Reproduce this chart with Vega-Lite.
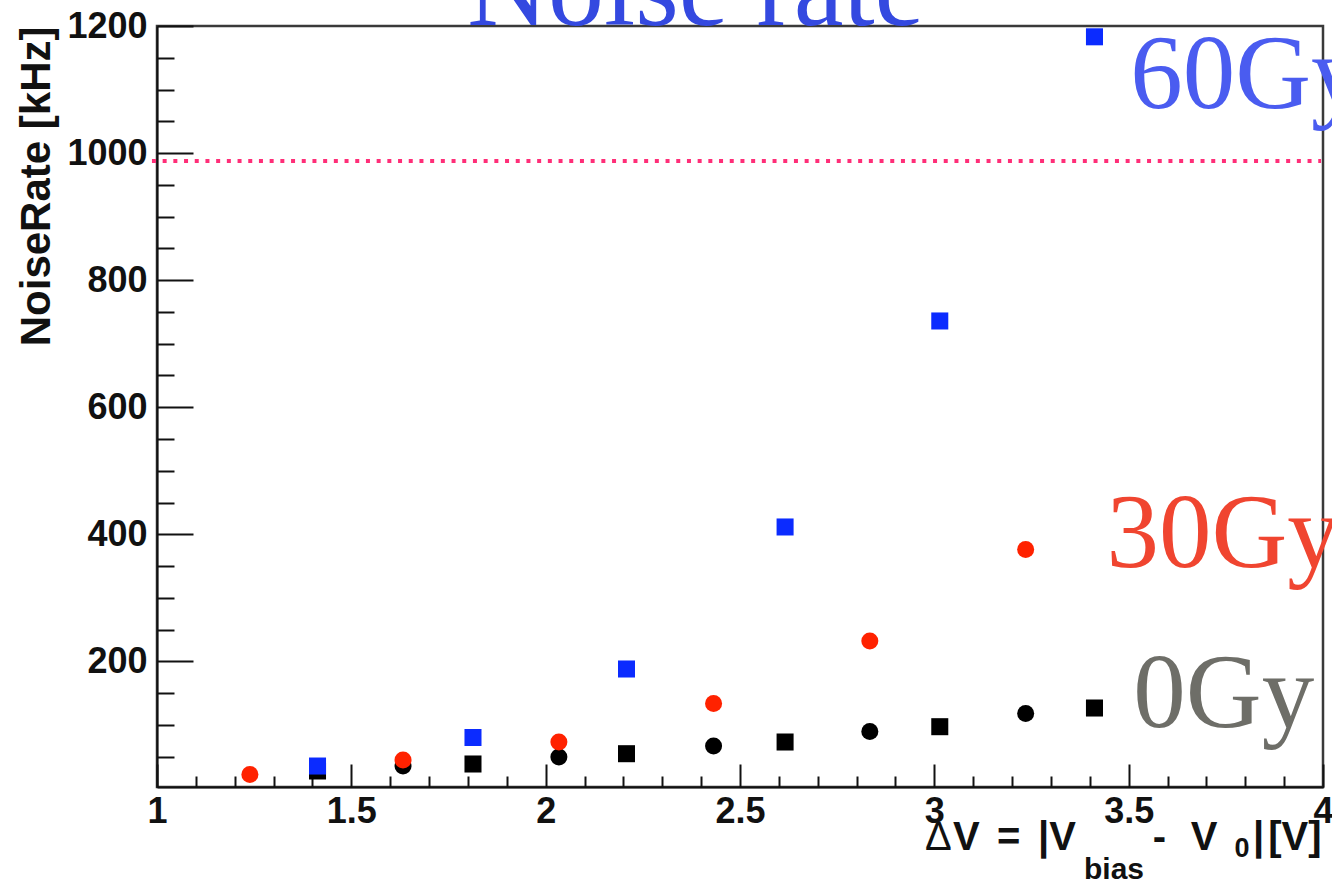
{
  "$schema": "https://vega.github.io/schema/vega-lite/v6.json",
  "width": 1166,
  "height": 761,
  "autosize": {"type": "none"},
  "padding": {"left": 157, "top": 26, "right": 9, "bottom": 99},
  "background": "#ffffff",
  "config": {
    "view": {"stroke": "#3a3a3a", "strokeWidth": 2.5},
    "axis": {
      "grid": false,
      "domainColor": "#111111",
      "domainWidth": 2,
      "tickColor": "#111111",
      "tickWidth": 2,
      "labelFont": "Liberation Sans",
      "labelFontWeight": "bold",
      "labelFontSize": 36,
      "labelColor": "#111111",
      "labelOverlap": false,
      "labelFlush": false
    },
    "text": {"font": "Liberation Sans", "fontWeight": "bold", "fontSize": 40, "color": "#111111", "align": "left", "baseline": "alphabetic"}
  },
  "datasets": {
    "noise": [
      {"dv": 1.413, "rate": 27.6, "dose": "0Gy", "run": "A"},
      {"dv": 1.633, "rate": 35.4, "dose": "0Gy", "run": "B"},
      {"dv": 1.813, "rate": 38.6, "dose": "0Gy", "run": "A"},
      {"dv": 2.034, "rate": 49.6, "dose": "0Gy", "run": "B"},
      {"dv": 2.208, "rate": 54.8, "dose": "0Gy", "run": "A"},
      {"dv": 2.432, "rate": 66.9, "dose": "0Gy", "run": "B"},
      {"dv": 2.616, "rate": 73.2, "dose": "0Gy", "run": "A"},
      {"dv": 2.834, "rate": 89.7, "dose": "0Gy", "run": "B"},
      {"dv": 3.014, "rate": 97.3, "dose": "0Gy", "run": "A"},
      {"dv": 3.235, "rate": 118.1, "dose": "0Gy", "run": "B"},
      {"dv": 3.412, "rate": 126.7, "dose": "0Gy", "run": "A"},
      {"dv": 1.239, "rate": 22.0, "dose": "30Gy", "run": "B"},
      {"dv": 1.633, "rate": 44.9, "dose": "30Gy", "run": "B"},
      {"dv": 2.034, "rate": 73.2, "dose": "30Gy", "run": "B"},
      {"dv": 2.432, "rate": 133.8, "dose": "30Gy", "run": "B"},
      {"dv": 2.834, "rate": 232.2, "dose": "30Gy", "run": "B"},
      {"dv": 3.235, "rate": 376.2, "dose": "30Gy", "run": "B"},
      {"dv": 1.413, "rate": 35.4, "dose": "60Gy", "run": "A"},
      {"dv": 1.813, "rate": 80.3, "dose": "60Gy", "run": "A"},
      {"dv": 2.208, "rate": 188.1, "dose": "60Gy", "run": "A"},
      {"dv": 2.616, "rate": 411.6, "dose": "60Gy", "run": "A"},
      {"dv": 3.014, "rate": 735.8, "dose": "60Gy", "run": "A"},
      {"dv": 3.412, "rate": 1183.0, "dose": "60Gy", "run": "A"}
    ],
    "single": [{}]
  },
  "resolve": {"axis": {"x": "independent", "y": "independent"}},
  "layer": [
    {
      "data": {"name": "single"},
      "mark": {"type": "rule", "color": "#ff2e78", "strokeWidth": 4, "strokeDash": [4, 6.7], "clip": false},
      "encoding": {
        "x": {
          "datum": 0.987,
          "type": "quantitative",
          "scale": {"domain": [1, 4], "nice": false, "zero": false},
          "axis": {
            "orient": "bottom",
            "values": [1.1, 1.2, 1.3, 1.4, 1.6, 1.7, 1.8, 1.9, 2.1, 2.2, 2.3, 2.4, 2.6, 2.7, 2.8, 2.9, 3.1, 3.2, 3.3, 3.4, 3.6, 3.7, 3.8, 3.9],
            "tickSize": -11,
            "labels": false,
            "domain": false,
            "title": null
          }
        },
        "x2": {"datum": 3.995},
        "y": {
          "datum": 987.6,
          "type": "quantitative",
          "scale": {"domain": [2.4, 1200], "nice": false, "zero": false},
          "axis": {
            "orient": "left",
            "values": [50, 100, 150, 250, 300, 350, 450, 500, 550, 650, 700, 750, 850, 900, 950, 1050, 1100, 1150],
            "tickSize": -17,
            "labels": false,
            "domain": false,
            "title": null
          }
        }
      }
    },
    {
      "data": {"name": "noise"},
      "mark": {"type": "point", "filled": true, "opacity": 1, "size": 290},
      "encoding": {
        "x": {
          "field": "dv",
          "type": "quantitative",
          "axis": {
            "orient": "bottom",
            "values": [1, 1.5, 2, 2.5, 3, 3.5, 4],
            "format": "~g",
            "tickSize": -23,
            "labelPadding": 30,
            "title": null
          }
        },
        "y": {
          "field": "rate",
          "type": "quantitative",
          "axis": {
            "orient": "left",
            "values": [200, 400, 600, 800, 1000, 1200],
            "format": "d",
            "tickSize": -36,
            "labelPadding": 46,
            "title": "NoiseRate [kHz]",
            "titleFont": "Liberation Sans",
            "titleFontWeight": "bold",
            "titleFontSize": 42,
            "titleColor": "#111111",
            "titleAnchor": "end",
            "titlePadding": 8
          }
        },
        "color": {
          "field": "dose",
          "type": "nominal",
          "scale": {"domain": ["0Gy", "30Gy", "60Gy"], "range": ["#000000", "#ff2200", "#0b2bff"]},
          "legend": null
        },
        "shape": {
          "field": "run",
          "type": "nominal",
          "scale": {"domain": ["A", "B"], "range": ["square", "circle"]},
          "legend": null
        }
      }
    },
    {
      "data": {"name": "single"},
      "mark": {"type": "text", "font": "Liberation Serif", "fontWeight": "normal", "fontSize": 112, "color": "#3449e0", "dy": -1, "clip": false},
      "encoding": {
        "x": {"datum": 1.798, "type": "quantitative", "axis": null},
        "y": {"datum": 1200, "type": "quantitative", "axis": null},
        "text": {"value": "Noise rate"}
      }
    },
    {
      "data": {"name": "single"},
      "mark": {"type": "text", "font": "Liberation Serif", "fontWeight": "normal", "fontSize": 105, "color": "#4a5cf0"},
      "encoding": {
        "x": {"datum": 3.504, "type": "quantitative", "axis": null},
        "y": {"datum": 1071, "type": "quantitative", "axis": null},
        "text": {"value": "60Gy"}
      }
    },
    {
      "data": {"name": "single"},
      "mark": {"type": "text", "font": "Liberation Serif", "fontWeight": "normal", "fontSize": 105, "color": "#f04530"},
      "encoding": {
        "x": {"datum": 3.443, "type": "quantitative", "axis": null},
        "y": {"datum": 348.6, "type": "quantitative", "axis": null},
        "text": {"value": "30Gy"}
      }
    },
    {
      "data": {"name": "single"},
      "mark": {"type": "text", "font": "Liberation Serif", "fontWeight": "normal", "fontSize": 105, "color": "#6e6e68"},
      "encoding": {
        "x": {"datum": 3.512, "type": "quantitative", "axis": null},
        "y": {"datum": 96.8, "type": "quantitative", "axis": null},
        "text": {"value": "0Gy"}
      }
    },
    {
      "data": {"name": "single"},
      "mark": {"type": "text", "fontWeight": "normal", "dy": 63},
      "encoding": {
        "x": {"datum": 2.976, "type": "quantitative", "axis": null},
        "y": {"datum": 2.4, "type": "quantitative", "axis": null},
        "text": {"value": "Δ"}
      }
    },
    {
      "data": {"name": "single"},
      "mark": {"type": "text", "dy": 63},
      "encoding": {
        "x": {"datum": 3.048, "type": "quantitative", "axis": null},
        "y": {"datum": 2.4, "type": "quantitative", "axis": null},
        "text": {"value": "V"}
      }
    },
    {
      "data": {"name": "single"},
      "mark": {"type": "text", "dy": 63},
      "encoding": {
        "x": {"datum": 3.161, "type": "quantitative", "axis": null},
        "y": {"datum": 2.4, "type": "quantitative", "axis": null},
        "text": {"value": "="}
      }
    },
    {
      "data": {"name": "single"},
      "mark": {"type": "text", "dy": 63},
      "encoding": {
        "x": {"datum": 3.267, "type": "quantitative", "axis": null},
        "y": {"datum": 2.4, "type": "quantitative", "axis": null},
        "text": {"value": "|V"}
      }
    },
    {
      "data": {"name": "single"},
      "mark": {"type": "text", "fontSize": 30, "dy": 92},
      "encoding": {
        "x": {"datum": 3.385, "type": "quantitative", "axis": null},
        "y": {"datum": 2.4, "type": "quantitative", "axis": null},
        "text": {"value": "bias"}
      }
    },
    {
      "data": {"name": "single"},
      "mark": {"type": "text", "dy": 63},
      "encoding": {
        "x": {"datum": 3.562, "type": "quantitative", "axis": null},
        "y": {"datum": 2.4, "type": "quantitative", "axis": null},
        "text": {"value": "-"}
      }
    },
    {
      "data": {"name": "single"},
      "mark": {"type": "text", "dy": 63},
      "encoding": {
        "x": {"datum": 3.66, "type": "quantitative", "axis": null},
        "y": {"datum": 2.4, "type": "quantitative", "axis": null},
        "text": {"value": "V"}
      }
    },
    {
      "data": {"name": "single"},
      "mark": {"type": "text", "fontSize": 27, "dy": 70},
      "encoding": {
        "x": {"datum": 3.772, "type": "quantitative", "axis": null},
        "y": {"datum": 2.4, "type": "quantitative", "axis": null},
        "text": {"value": "0"}
      }
    },
    {
      "data": {"name": "single"},
      "mark": {"type": "text", "dy": 63},
      "encoding": {
        "x": {"datum": 3.82, "type": "quantitative", "axis": null},
        "y": {"datum": 2.4, "type": "quantitative", "axis": null},
        "text": {"value": "|"}
      }
    },
    {
      "data": {"name": "single"},
      "mark": {"type": "text", "dy": 63},
      "encoding": {
        "x": {"datum": 3.859, "type": "quantitative", "axis": null},
        "y": {"datum": 2.4, "type": "quantitative", "axis": null},
        "text": {"value": "[V]"}
      }
    }
  ]
}
